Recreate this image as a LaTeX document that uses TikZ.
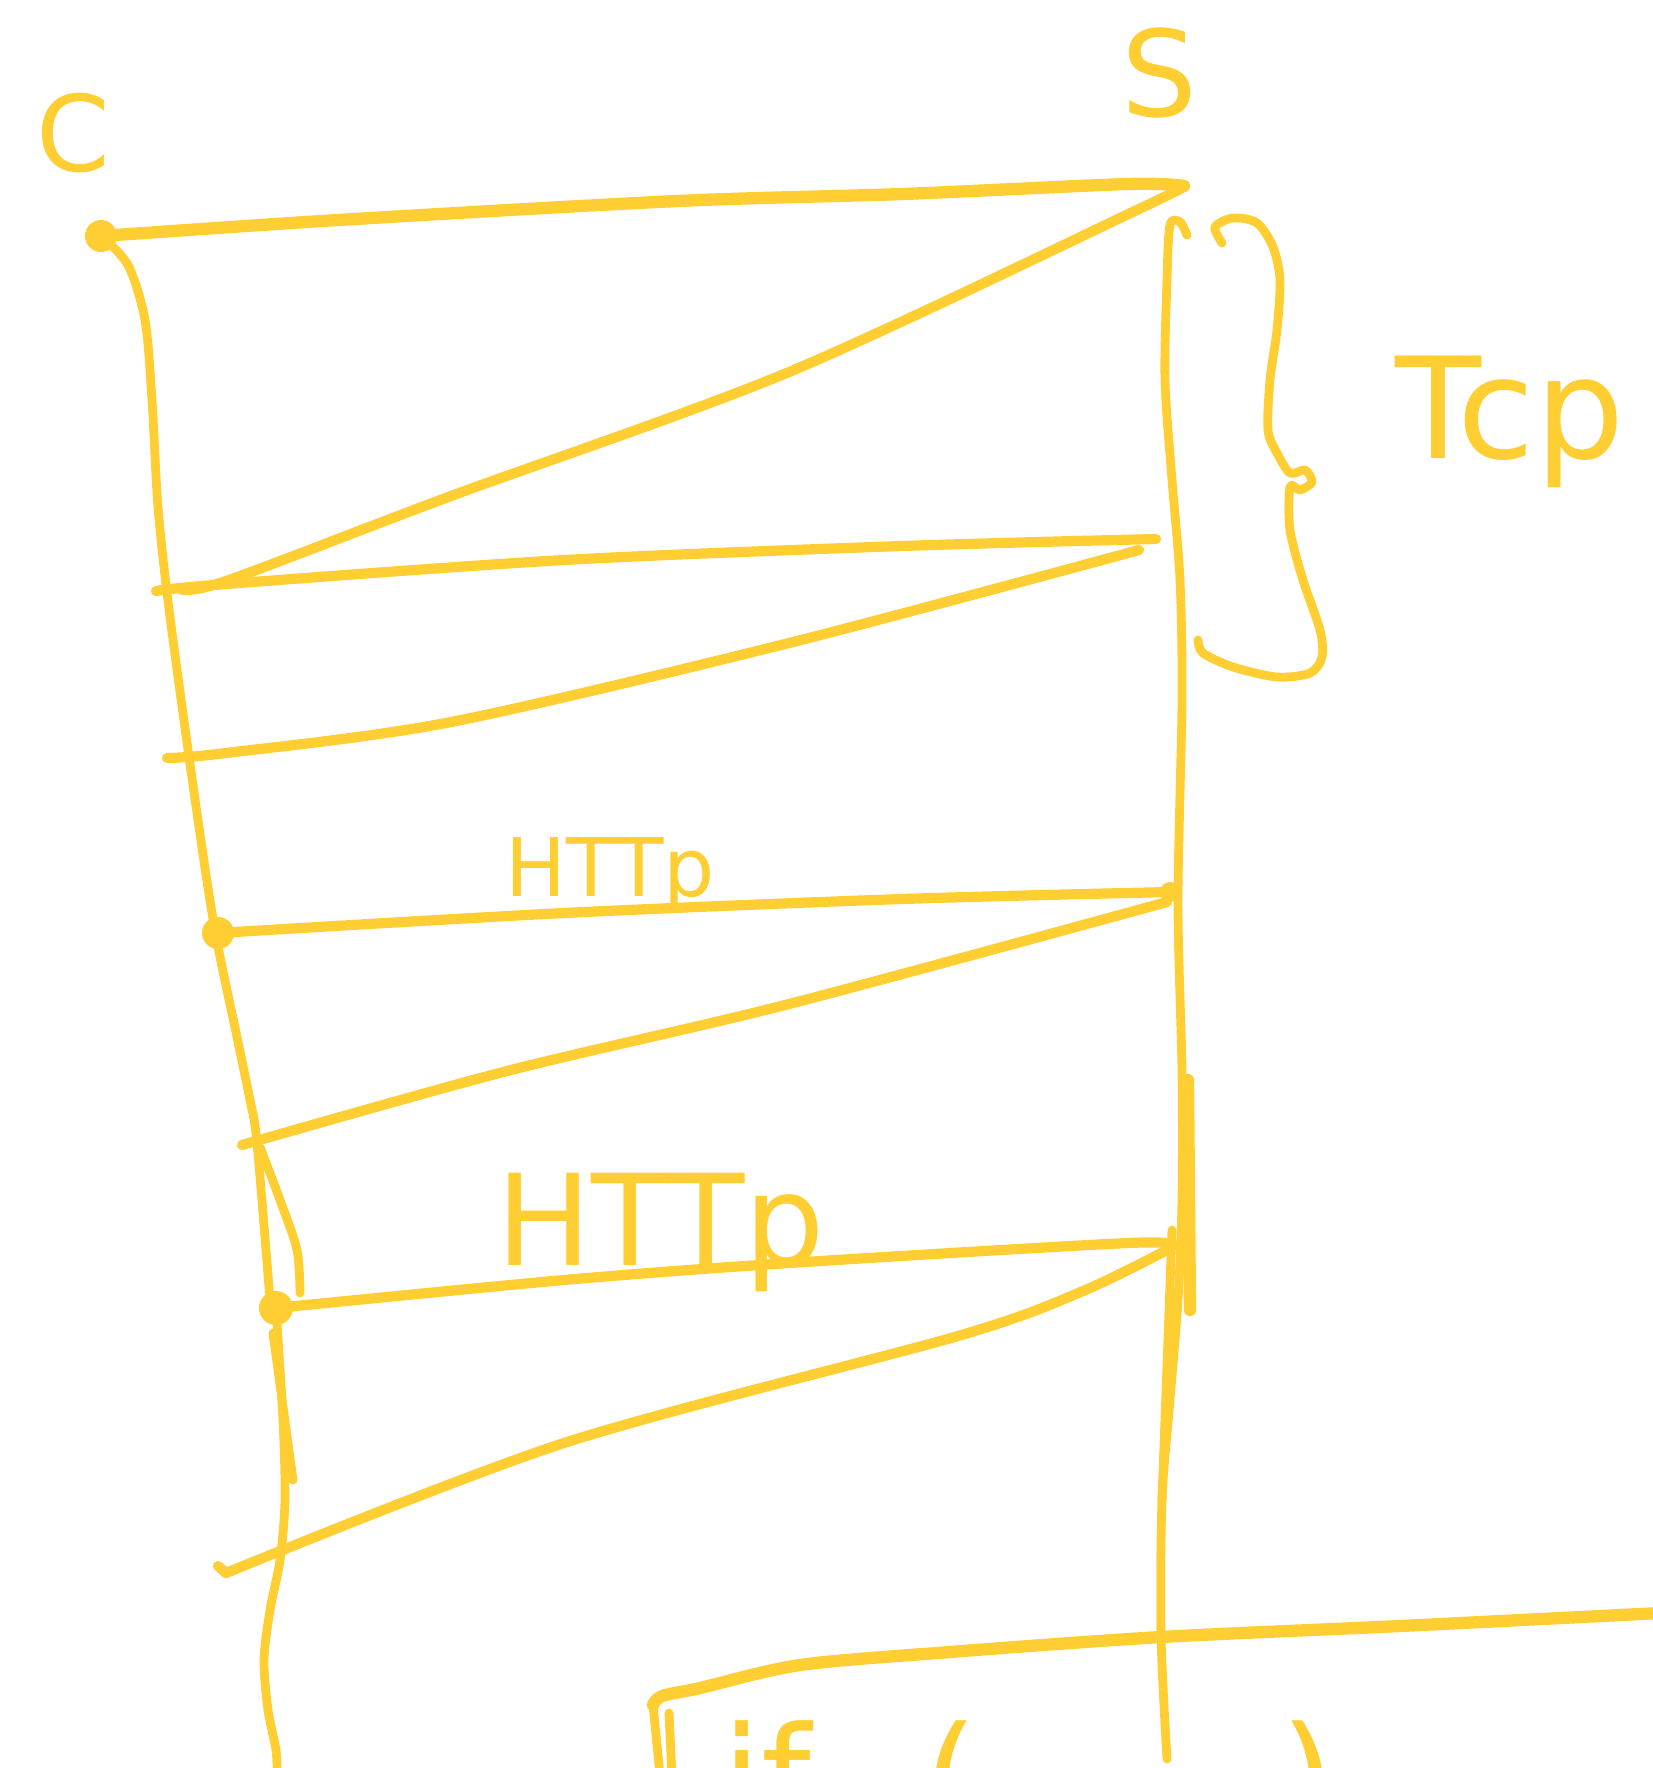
\documentclass[tikz,border=0pt]{standalone}
\usepackage{fontspec}
\setmainfont{DejaVu Sans}
\usetikzlibrary{positioning}
\definecolor{marker}{RGB}{255,206,51}

\begin{document}
\begin{tikzpicture}[
  x=.01cm,y=-.01cm,
  line cap=round,line join=round,
  ink/.style={draw=marker,line width=2.9pt},
  life/.style={draw=marker,line width=2.5pt},
  heavy/.style={draw=marker,line width=3.5pt},
  hand/.style={text=marker,inner sep=0pt},
  dot/.style={fill=marker}
]
\useasboundingbox (0,0) rectangle (1653,1768);
\clip (0,0) rectangle (1653,1768);

% end points on the client and server lifelines
\coordinate (cTop) at (101,236);
\coordinate (sTop) at (1184,186);
\coordinate (c1) at (180,589);
\coordinate (c2) at (156,591);
\coordinate (s2) at (1156,539);
\coordinate (s3) at (1139,550);
\coordinate (c3) at (167,758);
\coordinate (c4) at (218,933);
\coordinate (s4) at (1170,892);
\coordinate (s5) at (1167,902);
\coordinate (c5) at (242,1145);
\coordinate (c6) at (276,1308);
\coordinate (s6) at (1173,1246);
\coordinate (s7) at (1167,1250);
\coordinate (c7) at (226,1573);

% labels
\node[hand,font=\fontsize{30}{30}\selectfont] (lblC) at (73,133) {C};
\node[hand,font=\fontsize{34}{34}\selectfont] (lblS) at (1159,73) {S};
\node[hand,anchor=base west,font=\fontsize{40}{40}\selectfont] (lblTcp) at (1395,458) {Tcp};
\node[hand,anchor=base west,font=\fontsize{23}{23}\selectfont] (lblHttpA) at (505,896) {HTTp};
\node[hand,anchor=base west,font=\fontsize{36}{36}\selectfont] (lblHttpB) at (496,1265) {HTTp};

% client lifeline
\draw[life] plot[smooth,tension=.5] coordinates {(cTop) (128,265) (145,320) (152,400) (158,507)
  (169,609) (192,778) (214,925) (237,1037) (250,1100) (257,1143) (270,1300)};
\draw[life] plot[smooth,tension=.5] coordinates {(c6) (283,1420) (285,1500) (280,1560) (270,1610)
  (264,1660) (268,1710) (276,1750) (277,1775)};
\draw[life] plot[smooth,tension=.5] coordinates {(260,1147) (280,1200) (297,1250) (300,1293)};
\draw[life] (273,1333) -- (293,1480);

% server lifeline
\draw[life] plot[smooth,tension=.5] coordinates {(1187,235) (1180,222) (1170,225) (1167,280)
  (1165,380) (1172,480) (1180,580) (1182,700) (1178,902) (1182,1071) (1182,1200)
  (1178,1300) (1170,1400) (1162,1500) (1161,1635) (1167,1759)};
\draw[heavy] (1188,1080) -- (1190,1310);
\draw[life] (1172,1230) -- (1162,1500);

% brace for the handshake
\draw[life] plot[smooth,tension=.5] coordinates {(1222,243) (1215,227) (1233,218) (1257,223)
  (1273,247) (1280,280) (1277,330) (1270,380) (1268,430) (1277,453) (1290,473)
  (1305,470) (1312,482) (1300,490) (1290,487) (1290,530) (1303,580) (1320,630)
  (1322,657) (1310,673) (1277,677) (1233,667) (1203,653) (1198,640)};

% handshake
\draw[heavy] plot[smooth,tension=.5] coordinates {(cTop) (338,220) (677,201) (902,194) (1128,184) (sTop)};
\draw[ink] plot[smooth,tension=.5] coordinates {(sTop) (1139,209) (789,372) (451,496) (226,581) (c1)};
\draw[ink] plot[smooth,tension=.5] coordinates {(c2) (226,584) (564,560) (902,546) (s2)};
\draw[ink] plot[smooth,tension=.5] coordinates {(s3) (789,643) (451,722) (226,753) (c3)};

% first request and answer
\draw[ink] plot[smooth,tension=.5] coordinates {(c4) (564,913) (902,899) (s4)};
\draw[ink] plot[smooth,tension=.5] coordinates {(s5) (789,1004) (507,1071) (c5)};

% second request and answer
\draw[ink] plot[smooth,tension=.5] coordinates {(c6) (564,1280) (789,1263) (1128,1243) (s6)};
\draw[ink] plot[smooth,tension=.5] coordinates {(s7) (1083,1291) (958,1336) (564,1443) (c7)};
\draw[ink] (c7) -- (218,1566);

% send points
\fill[dot] (cTop) circle (.16cm);
\fill[dot] (c4) circle (.16cm);
\fill[dot] (c6) circle (.17cm);
\fill[dot] (s4) circle (.1cm);

% block at the bottom
\draw[heavy] plot[smooth,tension=.5] coordinates {(653,1705) (662,1696) (700,1688) (800,1665)
  (950,1652) (1161,1637) (1400,1626) (1660,1613)};
\draw[life] (653,1705) -- (660,1775);
\draw[life] (669,1713) -- (672,1775);
\node[hand,anchor=base west,font=\fontsize{40}{40}\selectfont] (lblIf) at (722,1827) {if\hspace{.8em}(};
\node[hand,anchor=base west,font=\fontsize{40}{40}\selectfont] (lblClose) at (1280,1827) {)};

\end{tikzpicture}
\end{document}
